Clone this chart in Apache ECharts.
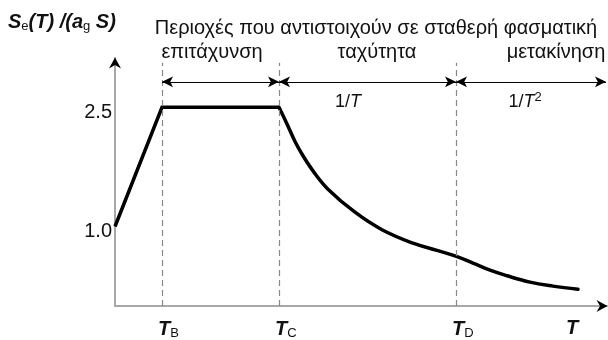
<!DOCTYPE html>
<html>
<head>
<meta charset="utf-8">
<script src="https://cdn.jsdelivr.net/npm/echarts@6/dist/echarts.min.js"></script>
<style>
  html, body { margin: 0; padding: 0; background: #fff; }
  #chart { width: 608px; height: 340px; }
</style>
</head>
<body>
<div id="chart"></div>
<script>
// Elastic response spectrum shape (normalised), schematic periods
const periodTB = 0.47;
const periodTC = 1.64;
const periodTD = 3.41;
const periodEnd = 4.55;

// Linear rise and constant-acceleration plateau
const rampT = [0, 0.47, 1.64];
const rampS = [1.0, 2.5, 2.5];

// Descending branch (1/T then 1/T^2)
const decayT = [1.64, 1.72, 1.80, 1.88, 1.98, 2.13, 2.40, 2.67, 2.98, 3.22, 3.40, 3.58, 3.75, 3.92, 4.15, 4.38, 4.63];
const decayS = [2.5, 2.29, 2.07, 1.89, 1.70, 1.47, 1.18, 0.96, 0.79, 0.70, 0.63, 0.54, 0.45, 0.38, 0.30, 0.25, 0.21];

// Axis tick labels
const yTickValues = [1.0, 2.5];
const xTickValues = [periodTB, periodTC, periodTD, periodEnd];
const xTickLabels = ['{t|T}{sub|B}', '{t|T}{sub|C}', '{t|T}{sub|D}', '{t|T}'];

const X_MAX = 4.92;
const Y_MAX = 3.12;
const ARROW_Y = 2.82;
const DASH_TOP = 3.06;

const FONT = '"Liberation Sans", Arial, sans-serif';
const INK = '#111';
const AXIS_GREY = '#a8a8a8';

// Filled arrowhead pointing up, used at the axis ends
const arrowHead = 'path://M6,0 L12,11 L6,7.5 L0,11 Z';

const chart = echarts.init(document.getElementById('chart'), null, { renderer: 'canvas' });

const dashedLines = [periodTB, periodTC, periodTD].map(t => [
  { coord: [t, 0] }, { coord: [t, DASH_TOP] }
]);
const spanArrows = [
  [periodTB, periodTC], [periodTC, periodTD], [periodTD, X_MAX - 0.01]
].map(([a, b]) => [{ coord: [a, ARROW_Y] }, { coord: [b, ARROW_Y] }]);

const option = {
  animation: false,
  backgroundColor: '#fff',
  grid: { left: 115, right: 1, top: 58, bottom: 26, containLabel: false },
  xAxis: {
    type: 'value', min: 0, max: X_MAX,
    splitLine: { show: false },
    axisTick: { show: false },
    axisLine: { show: true, onZero: false, lineStyle: { color: AXIS_GREY, width: 2 } },
    axisLabel: {
      customValues: xTickValues,
      formatter: (v) => xTickLabels[xTickValues.indexOf(v)] || '',
      align: 'left', margin: 12, padding: [0, 0, 0, -4],
      rich: {
        t: { fontFamily: FONT, fontSize: 20, fontWeight: 'bold', fontStyle: 'italic', color: INK },
        sub: { fontFamily: FONT, fontSize: 13, color: INK, padding: [9, 0, 0, 0] }
      }
    }
  },
  yAxis: {
    type: 'value', min: 0, max: Y_MAX,
    splitLine: { show: false },
    axisTick: { show: false },
    axisLine: { show: true, onZero: false, lineStyle: { color: AXIS_GREY, width: 2 } },
    axisLabel: {
      customValues: yTickValues,
      formatter: (v) => '{v|' + v.toFixed(1) + '}',
      margin: 3,
      rich: {
        v: { fontFamily: FONT, fontSize: 20, color: INK, padding: [10, 0, 0, 0] }
      }
    }
  },
  series: [
    {
      type: 'line',
      data: rampT.map((t, i) => [t, rampS[i]]),
      showSymbol: false,
      lineStyle: { color: '#000', width: 3.5, join: 'miter' },
      markLine: {
        silent: true, symbol: ['none', 'none'], label: { show: false },
        lineStyle: { color: '#888', width: 1.2, type: [6, 4] },
        data: dashedLines
      },
      markPoint: {
        silent: true, label: { show: false },
        itemStyle: { color: '#000' },
        data: [
          { coord: [0, Y_MAX], symbol: arrowHead, symbolSize: [12, 11], symbolOffset: [0, 5] },
          { coord: [X_MAX, 0], symbol: arrowHead, symbolSize: [12, 11], symbolRotate: -90, symbolOffset: [-5, 0] }
        ]
      }
    },
    {
      type: 'line',
      data: decayT.map((t, i) => [t, decayS[i]]),
      showSymbol: false, smooth: 0.4,
      lineStyle: { color: '#000', width: 3.5, cap: 'round' },
      markLine: {
        silent: true, symbol: ['arrow', 'arrow'], symbolSize: [8, 11],
        label: { show: false },
        lineStyle: { color: '#000', width: 1.2, type: 'solid' },
        data: spanArrows
      }
    }
  ],
  graphic: [
    {
      type: 'text', left: 8, top: 12,
      style: {
        text: '{b|S}{s|e}{b|(T) /(a}{s|g}{b| S)}',
        rich: {
          b: { fontFamily: FONT, fontSize: 20, fontWeight: 'bold', fontStyle: 'italic', fill: INK },
          s: { fontFamily: FONT, fontSize: 13, fill: INK, padding: [8, 0, 0, 0] }
        }
      }
    },
    {
      type: 'text', x: 376, y: 28,
      style: { text: 'Περιοχές που αντιστοιχούν σε σταθερή φασματική', font: '20px ' + FONT, fill: INK, align: 'center', verticalAlign: 'middle' }
    },
    {
      type: 'text', x: 212, y: 52,
      style: { text: 'επιτάχυνση', font: '20px ' + FONT, fill: INK, align: 'center', verticalAlign: 'middle' }
    },
    {
      type: 'text', x: 377, y: 52,
      style: { text: 'ταχύτητα', font: '20px ' + FONT, fill: INK, align: 'center', verticalAlign: 'middle' }
    },
    {
      type: 'text', x: 556, y: 52,
      style: { text: 'μετακίνηση', font: '20px ' + FONT, fill: INK, align: 'center', verticalAlign: 'middle' }
    },
    {
      type: 'text', x: 348, y: 102,
      style: {
        text: '{n|1/}{i|T}', align: 'center', verticalAlign: 'middle',
        rich: {
          n: { fontFamily: FONT, fontSize: 18, fill: INK },
          i: { fontFamily: FONT, fontSize: 18, fontStyle: 'italic', fill: INK }
        }
      }
    },
    {
      type: 'text', x: 525, y: 102,
      style: {
        text: '{n|1/}{i|T}{p|2}', align: 'center', verticalAlign: 'middle',
        rich: {
          n: { fontFamily: FONT, fontSize: 18, fill: INK },
          i: { fontFamily: FONT, fontSize: 18, fontStyle: 'italic', fill: INK },
          p: { fontFamily: FONT, fontSize: 13, fill: INK, padding: [0, 0, 9, 0] }
        }
      }
    }
  ]
};

chart.setOption(option);
</script>
</body>
</html>
